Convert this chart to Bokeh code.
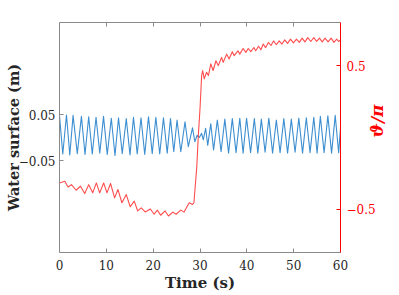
import math
from bokeh.plotting import figure
from bokeh.models import LinearAxis, Range1d, FixedTicker, CustomLabelingPolicy
from bokeh.embed import file_html
from bokeh.resources import INLINE

# Water surface elevation (m): extrema
wave_t = [0.0, 0.7, 1.49, 2.2, 2.9, 3.8, 4.68, 5.45, 6.23, 7.0, 7.8, 8.6, 9.4, 10.2,
          11.06, 11.85, 12.6, 13.4, 14.26, 15.05, 15.8, 16.6, 17.4, 18.2, 19.0, 19.8,
          20.57, 21.4, 22.2, 23.0, 23.7, 24.4, 25.1, 25.9, 26.8, 27.5, 28.4, 28.9,
          29.4, 29.85, 30.35, 30.7, 31.2, 31.65, 32.3, 32.9, 33.7, 34.5, 35.3, 36.1,
          36.9, 37.7, 38.5, 39.2, 39.94, 40.8, 41.6, 42.35, 43.1, 43.9, 44.7, 45.5,
          46.3, 47.1, 47.9, 48.7, 49.5, 50.3, 51.1, 51.9, 52.7, 53.5, 54.3, 55.0,
          55.7, 56.5, 57.3, 58.1, 58.87, 59.6, 60.0]
wave_v = [0.047, -0.036, 0.049, -0.038, 0.048, -0.035, 0.046, -0.037, 0.045, -0.036,
          0.044, -0.034, 0.046, -0.037, 0.042, -0.039, 0.043, -0.035, 0.041, -0.038,
          0.044, -0.036, 0.043, -0.037, 0.045, -0.035, 0.044, -0.036, 0.043, -0.034,
          0.041, -0.031, 0.038, -0.031, 0.034, -0.020, 0.021, -0.009, 0.005, 0.000,
          0.009, -0.005, 0.020, -0.017, 0.030, -0.027, 0.038, -0.031, 0.040, -0.034,
          0.041, -0.033, 0.042, -0.034, 0.042, -0.033, 0.041, -0.034, 0.040, -0.032,
          0.042, -0.034, 0.038, -0.033, 0.041, -0.034, 0.040, -0.032, 0.042, -0.034,
          0.043, -0.033, 0.044, -0.034, 0.046, -0.033, 0.047, -0.034, 0.048, -0.033,
          0.020]

# theta / pi
theta_t = [0.0, 1.13, 1.84, 2.55, 3.55, 4.47, 5.39, 6.24, 7.09, 7.87, 8.58, 9.43, 10.14,
           10.9, 11.77, 12.48, 13.33, 14.26, 15.1, 15.96, 16.7, 17.45, 18.3, 19.4, 20.2,
           20.9, 21.6, 22.55, 23.26, 24.2, 24.9, 25.9, 26.6, 27.7, 28.4, 28.7, 29.3,
           29.65, 30.0, 30.35, 30.57, 30.9, 31.4, 31.8, 32.3, 32.8, 33.4, 33.9, 34.6,
           34.96, 35.7, 36.2, 36.9, 37.3, 38.1, 38.5, 39.2, 39.8, 40.3, 40.85, 41.5,
           41.9, 42.5, 43.0, 43.5, 44.0, 44.6, 45.15, 45.7, 46.3, 46.9, 47.5, 48.1,
           48.7, 49.3, 49.95, 50.6, 51.2, 51.8, 52.4, 53.0, 53.65, 54.3, 54.9, 55.5,
           56.1, 56.7, 57.35, 58.0, 58.6, 59.2, 59.6, 60.0]
theta_v = [-0.316, -0.305, -0.344, -0.328, -0.367, -0.339, -0.390, -0.328, -0.385,
           -0.316, -0.385, -0.316, -0.385, -0.320, -0.420, -0.362, -0.454, -0.397,
           -0.482, -0.443, -0.511, -0.489, -0.518, -0.497, -0.534, -0.505, -0.541,
           -0.511, -0.546, -0.519, -0.534, -0.505, -0.519, -0.454, -0.466, -0.454,
           -0.21, 0.017, 0.2, 0.43, 0.466, 0.408, 0.454, 0.431, 0.512, 0.466, 0.534,
           0.5, 0.557, 0.523, 0.58, 0.546, 0.597, 0.569, 0.603, 0.58, 0.619, 0.592,
           0.619, 0.597, 0.626, 0.603, 0.635, 0.610, 0.650, 0.625, 0.661, 0.640,
           0.672, 0.645, 0.672, 0.650, 0.679, 0.655, 0.684, 0.658, 0.684, 0.662,
           0.691, 0.665, 0.695, 0.668, 0.695, 0.668, 0.691, 0.665, 0.691, 0.665,
           0.691, 0.662, 0.684, 0.668, 0.679]

x_ticks = [0, 10, 20, 30, 40, 50, 60]
left_ticks = [-0.05, 0.05]
right_ticks = [-0.5, 0.5]

SERIF = "DejaVu Serif"
GRAY = "#8a8a8a"
DARK = "#262626"
RED = "#ff0000"

p = figure(width=399, height=295, output_backend="svg", toolbar_location=None,
           x_range=Range1d(0, 60), y_range=Range1d(-0.25, 0.25),
           min_border_left=59, min_border_right=58, min_border_top=22, min_border_bottom=43)
p.outline_line_color = None
p.xgrid.visible = False
p.ygrid.visible = False

p.extra_y_ranges = {"theta": Range1d(-0.8, 0.8)}

p.line(wave_t, wave_v, line_color="#3d8fd1", line_width=1.1, line_join="round")
p.line(theta_t, theta_v, line_color="#ff4d4d", line_width=1.1, line_join="round",
       y_range_name="theta")

def style(ax, color, lblcolor):
    ax.axis_line_color = color
    ax.major_tick_line_color = color
    ax.major_tick_in = 4
    ax.major_tick_out = 0
    ax.minor_tick_line_color = None
    ax.major_label_text_font = SERIF
    ax.major_label_text_font_size = "12px"
    ax.major_label_text_color = lblcolor
    ax.axis_label_text_font = SERIF
    ax.axis_label_text_font_style = "bold"
    ax.axis_label_text_font_size = "15px"

xa = p.xaxis[0]
style(xa, GRAY, DARK)
xa.ticker = FixedTicker(ticks=x_ticks)
xa.axis_label = "Time (s)"
xa.axis_label_text_color = DARK
xa.major_label_standoff = 7
xa.axis_label_standoff = 1

ya = p.yaxis[0]
style(ya, GRAY, DARK)
ya.ticker = FixedTicker(ticks=left_ticks)
ya.axis_label = "Water surface (m)"
ya.axis_label_text_color = DARK
ya.axis_label_text_font_size = "14.5px"
ya.major_label_standoff = 4
ya.axis_label_standoff = -6

top = LinearAxis(ticker=FixedTicker(ticks=x_ticks))
style(top, GRAY, DARK)
top.major_label_standoff = 0
top.major_label_policy = CustomLabelingPolicy(code="""
    for (const i of indices) indices.unset(i)
    return indices
""")
p.add_layout(top, "above")

ra = LinearAxis(y_range_name="theta", ticker=FixedTicker(ticks=right_ticks))
style(ra, RED, RED)
ra.axis_label = "ϑ/π"
ra.axis_label_text_color = RED
ra.axis_label_text_font_style = "bold italic"
ra.axis_label_text_font_size = "17px"
ra.axis_label_orientation = math.pi / 2
ra.major_label_standoff = 6
ra.axis_label_standoff = -2
p.add_layout(ra, "right")

open("out.html", "w").write(file_html(p, INLINE))
